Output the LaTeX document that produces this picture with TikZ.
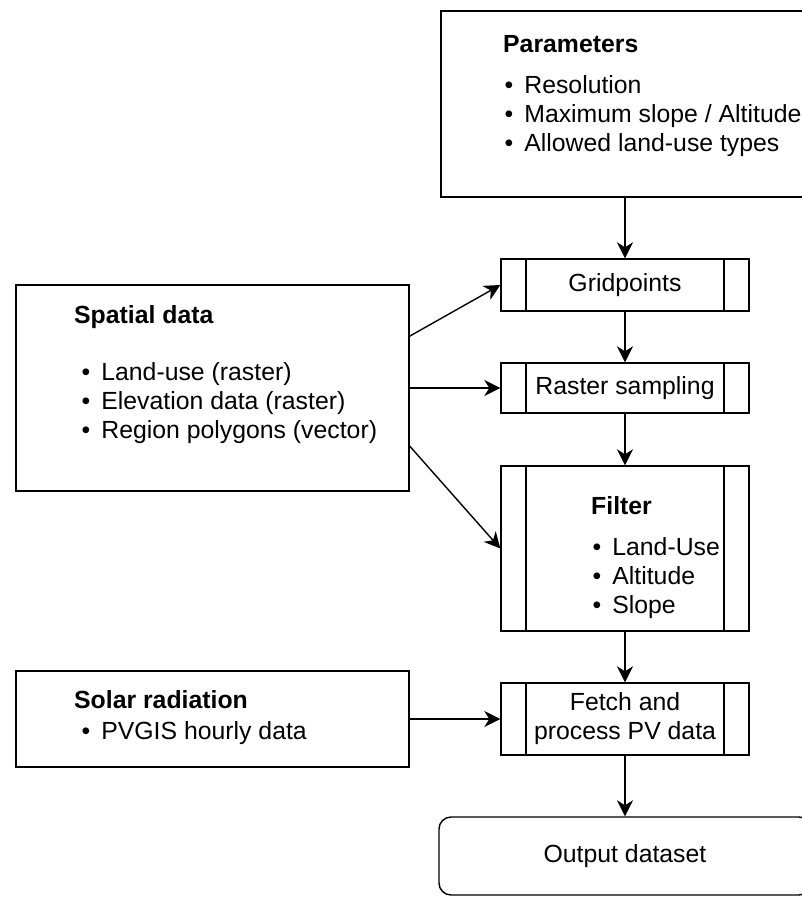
\documentclass[tikz,border=0pt]{standalone}
\usepackage{fontspec}
\setmainfont{Liberation Sans}
\usetikzlibrary{arrows.meta,calc}

\tikzset{
	box/.style={draw, line width=1.4pt, inner sep=0pt},
	procbox/.style={draw, line width=1.4pt, minimum width=248pt, inner sep=0pt, align=center,
		path picture={
			\draw[line width=1.4pt] ([xshift=25pt]path picture bounding box.north west) -- ([xshift=25pt]path picture bounding box.south west);
			\draw[line width=1.4pt] ([xshift=-25pt]path picture bounding box.north east) -- ([xshift=-25pt]path picture bounding box.south east);}},
	txt/.style={align=left, anchor=base west, inner sep=0pt},
	flow/.style={line width=1.4pt, -{Stealth[length=16pt,width=16pt,inset=5pt]}}
}
\newcommand{\itm}[1]{\hspace*{#1}\textbullet\hspace{11pt}}

\begin{document}
\begin{tikzpicture}[x=1pt, y=-1pt, every node/.append style={font=\fontsize{24.8}{29}\selectfont}]
	\useasboundingbox (0,0) rectangle (802,898);

	% input boxes
	\node[box, minimum width=368pt, minimum height=186pt] (params) at (625,104) {};
	\node[box, minimum width=393pt, minimum height=206pt] (spatial) at (212.5,388) {};
	\node[box, minimum width=393pt, minimum height=96pt] (solar) at (212.5,719) {};

	% anchored at the baseline of the last line
	\node[txt] (paramstxt) at (503,151) {\textbf{Parameters}\\[12pt]
		\itm{1.5pt}Resolution\\ \itm{1.5pt}Maximum slope / Altitude\\ \itm{1.5pt}Allowed land-use types};
	\node[txt] (spatialtxt) at (74,438) {\textbf{Spatial data}\\[28pt]
		\itm{7.5pt}Land-use (raster)\\ \itm{7.5pt}Elevation data (raster)\\ \itm{7.5pt}Region polygons (vector)};
	\node[txt] (solartxt) at (74,739) {\textbf{Solar radiation}\\[2pt]
		\itm{7.5pt}PVGIS hourly data};

	% processing steps
	\node[procbox, minimum height=52pt] (grid) at (625,285) {Gridpoints};
	\node[procbox, minimum height=50pt] (raster) at (625,388) {Raster sampling};
	\node[procbox, minimum height=165pt] (filter) at (625,548.5) {};
	\node[txt] (filtertxt) at (591,613) {\textbf{Filter}\\[12pt]
		\itm{1.5pt}Land-Use\\ \itm{1.5pt}Altitude\\ \itm{1.5pt}Slope};
	\node[procbox, minimum height=72pt] (fetch) at (625,719) {Fetch and\\process PV data};
	\node[box, rounded corners=12pt, minimum width=372pt, minimum height=78pt] (output) at (625,856) {Output dataset};

	\draw[flow] (params) -- (grid);
	\draw[flow] (grid) -- (raster);
	\draw[flow] (raster) -- (filter);
	\draw[flow] (filter) -- (fetch);
	\draw[flow] (fetch) -- (output);

	\draw[flow] ($(spatial.north east)!0.25!(spatial.south east)$) -- (grid.west);
	\draw[flow] (spatial.east) -- (raster.west);
	\draw[flow] ($(spatial.north east)!0.78!(spatial.south east)$) -- (filter.west);
	\draw[flow] (solar) -- (fetch);
\end{tikzpicture}
\end{document}
